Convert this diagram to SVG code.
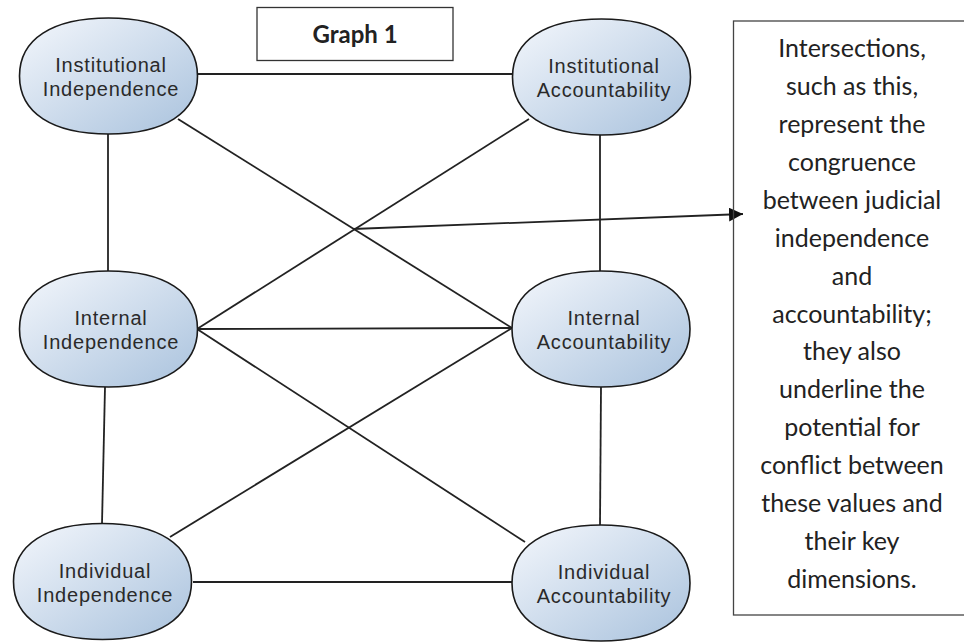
<svg xmlns="http://www.w3.org/2000/svg" width="964" height="644" viewBox="0 0 964 644">
<defs>
<linearGradient id="g" x1="0" y1="0" x2="1" y2="1">
<stop offset="0" stop-color="#f4f7fc"/>
<stop offset="1" stop-color="#a9c2dd"/>
</linearGradient>
<path id="blob" d="M -89,0 C -89,-37 -56,-58 0,-58 C 56,-58 89,-37 89,0 C 89,37 56,58 0,58 C -56,58 -89,37 -89,0 Z"/>
<marker id="arr" viewBox="0 0 14 14" refX="14" refY="7" markerWidth="14" markerHeight="14" markerUnits="userSpaceOnUse" orient="auto">
<path d="M0,0 L14,7 L0,14 Z" fill="#111"/>
</marker>
</defs>
<style>
.node use{fill:url(#g);stroke:#1a1a1a;stroke-width:1.6}
.nt{font-family:"Liberation Sans",Arial,sans-serif;font-size:20px;letter-spacing:0.8px;fill:#2a2a2a;text-anchor:middle}
.conn line{stroke:#222;stroke-width:1.8}
.bt{font-family:Lato,"Open Sans",sans-serif;font-size:25px;fill:#222;text-anchor:middle}
</style>
<rect width="964" height="644" fill="#fff"/>
<g id="connectors" class="conn">
<line x1="197" y1="74" x2="513" y2="74"/>
<line x1="108" y1="134" x2="108" y2="271"/>
<line x1="600" y1="135" x2="600" y2="271"/>
<line x1="178" y1="119" x2="512" y2="328"/>
<line x1="197" y1="329" x2="529" y2="119"/>
<line x1="197" y1="329" x2="512" y2="328"/>
<line x1="197" y1="329" x2="525" y2="542"/>
<line x1="170" y1="537" x2="512" y2="328"/>
<line x1="105" y1="387" x2="102" y2="524"/>
<line x1="601" y1="387" x2="600" y2="525"/>
<line x1="193" y1="582" x2="512" y2="582"/>
<line x1="353" y1="229" x2="743" y2="214" marker-end="url(#arr)" stroke="#111"/>
</g>
<g id="n-inst-ind" class="node"><use href="#blob" x="108.5" y="76"/><text class="nt" x="111" y="72">Institutional</text><text class="nt" x="111" y="96">Independence</text></g>
<g id="n-inst-acc" class="node"><use href="#blob" x="601.5" y="77"/><text class="nt" x="604" y="73">Institutional</text><text class="nt" x="604" y="97">Accountability</text></g>
<g id="n-int-ind" class="node"><use href="#blob" x="108.5" y="329"/><text class="nt" x="111" y="325">Internal</text><text class="nt" x="111" y="349">Independence</text></g>
<g id="n-int-acc" class="node"><use href="#blob" x="601" y="329"/><text class="nt" x="604" y="325">Internal</text><text class="nt" x="604" y="349">Accountability</text></g>
<g id="n-ind-ind" class="node"><use href="#blob" x="102.5" y="581.5"/><text class="nt" x="105" y="578">Individual</text><text class="nt" x="105" y="602">Independence</text></g>
<g id="n-ind-acc" class="node"><use href="#blob" x="601" y="583"/><text class="nt" x="604" y="579">Individual</text><text class="nt" x="604" y="603">Accountability</text></g>
<g id="title">
<rect x="257" y="7.5" width="196" height="53" fill="#fff" stroke="#333" stroke-width="1.3"/>
<text x="355" y="43" font-family="Lato,'Open Sans',sans-serif" font-size="24" font-weight="bold" fill="#222" text-anchor="middle">Graph 1</text>
</g>
<g id="note">
<rect x="733.5" y="21" width="240" height="594" fill="none" stroke="#444" stroke-width="1.3"/>
<text class="bt" x="852" y="57">Intersections,</text>
<text class="bt" x="852" y="95">such as this,</text>
<text class="bt" x="852" y="133">represent the</text>
<text class="bt" x="852" y="171">congruence</text>
<text class="bt" x="852" y="208.5">between judicial</text>
<text class="bt" x="852" y="246.5">independence</text>
<text class="bt" x="852" y="284.5">and</text>
<text class="bt" x="852" y="322.5">accountability;</text>
<text class="bt" x="852" y="360">they also</text>
<text class="bt" x="852" y="398">underline the</text>
<text class="bt" x="852" y="436">potential for</text>
<text class="bt" x="852" y="474">conflict between</text>
<text class="bt" x="852" y="512">these values and</text>
<text class="bt" x="852" y="550">their key</text>
<text class="bt" x="852" y="588">dimensions.</text>
</g>
</svg>
